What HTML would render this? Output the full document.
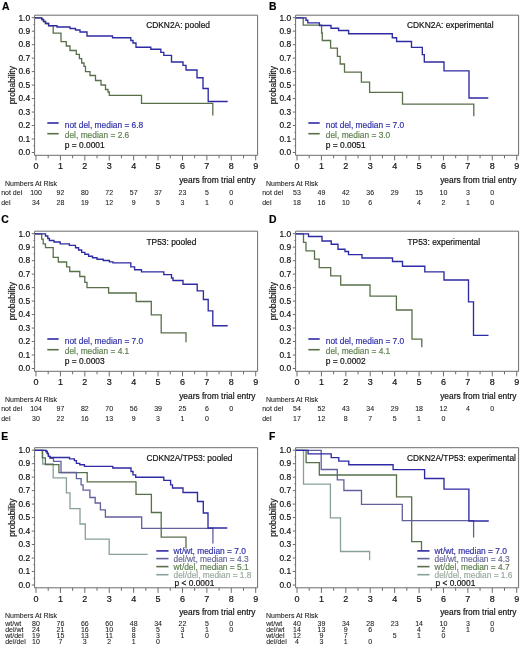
<!DOCTYPE html>
<html><head><meta charset="utf-8"><style>
html,body{margin:0;padding:0;background:#fff;}
body{width:520px;height:645px;overflow:hidden;}
svg{display:block;filter:blur(0.3px);font-family:"Liberation Sans",sans-serif;}
text{stroke-width:0.18px;}
text.t{stroke-width:0.08px;}
</style></head><body>
<svg width="520" height="645" viewBox="0 0 520 645">
<rect width="520" height="645" fill="#fff"/>
<g transform="translate(0,0)">
<text x="2" y="10" font-size="10.4" font-weight="bold" fill="#000" stroke="#000">A</text>
<path d="M34.6 15.2H257.6V155.3" fill="none" stroke="#6c6c6c" stroke-width="1"/>
<path d="M34.6 15.2V155.3H257.6" fill="none" stroke="#6c6c6c" stroke-width="1"/>
<path d="M31.8 152.5H34.6" stroke="#6c6c6c" stroke-width="1"/>
<text x="30.1" y="155.3" font-size="8.4" text-anchor="end" fill="#111" stroke="#111">0.0</text>
<path d="M31.8 139.02H34.6" stroke="#6c6c6c" stroke-width="1"/>
<text x="30.1" y="141.82" font-size="8.4" text-anchor="end" fill="#111" stroke="#111">0.1</text>
<path d="M31.8 125.54H34.6" stroke="#6c6c6c" stroke-width="1"/>
<text x="30.1" y="128.34" font-size="8.4" text-anchor="end" fill="#111" stroke="#111">0.2</text>
<path d="M31.8 112.06H34.6" stroke="#6c6c6c" stroke-width="1"/>
<text x="30.1" y="114.86" font-size="8.4" text-anchor="end" fill="#111" stroke="#111">0.3</text>
<path d="M31.8 98.58H34.6" stroke="#6c6c6c" stroke-width="1"/>
<text x="30.1" y="101.38" font-size="8.4" text-anchor="end" fill="#111" stroke="#111">0.4</text>
<path d="M31.8 85.1H34.6" stroke="#6c6c6c" stroke-width="1"/>
<text x="30.1" y="87.9" font-size="8.4" text-anchor="end" fill="#111" stroke="#111">0.5</text>
<path d="M31.8 71.62H34.6" stroke="#6c6c6c" stroke-width="1"/>
<text x="30.1" y="74.42" font-size="8.4" text-anchor="end" fill="#111" stroke="#111">0.6</text>
<path d="M31.8 58.14H34.6" stroke="#6c6c6c" stroke-width="1"/>
<text x="30.1" y="60.94" font-size="8.4" text-anchor="end" fill="#111" stroke="#111">0.7</text>
<path d="M31.8 44.66H34.6" stroke="#6c6c6c" stroke-width="1"/>
<text x="30.1" y="47.46" font-size="8.4" text-anchor="end" fill="#111" stroke="#111">0.8</text>
<path d="M31.8 31.18H34.6" stroke="#6c6c6c" stroke-width="1"/>
<text x="30.1" y="33.98" font-size="8.4" text-anchor="end" fill="#111" stroke="#111">0.9</text>
<path d="M31.8 17.7H34.6" stroke="#6c6c6c" stroke-width="1"/>
<text x="30.1" y="20.5" font-size="8.4" text-anchor="end" fill="#111" stroke="#111">1.0</text>
<path d="M33.4 145.76H34.6" stroke="#6c6c6c" stroke-width="1"/>
<path d="M33.4 132.28H34.6" stroke="#6c6c6c" stroke-width="1"/>
<path d="M33.4 118.8H34.6" stroke="#6c6c6c" stroke-width="1"/>
<path d="M33.4 105.32H34.6" stroke="#6c6c6c" stroke-width="1"/>
<path d="M33.4 91.84H34.6" stroke="#6c6c6c" stroke-width="1"/>
<path d="M33.4 78.36H34.6" stroke="#6c6c6c" stroke-width="1"/>
<path d="M33.4 64.88H34.6" stroke="#6c6c6c" stroke-width="1"/>
<path d="M33.4 51.4H34.6" stroke="#6c6c6c" stroke-width="1"/>
<path d="M33.4 37.92H34.6" stroke="#6c6c6c" stroke-width="1"/>
<path d="M33.4 24.44H34.6" stroke="#6c6c6c" stroke-width="1"/>
<path d="M36 155.3V160.4" stroke="#6c6c6c" stroke-width="1"/>
<text x="36" y="169.3" font-size="9" text-anchor="middle" fill="#111" stroke="#111">0</text>
<path d="M60.41 155.3V160.4" stroke="#6c6c6c" stroke-width="1"/>
<text x="60.41" y="169.3" font-size="9" text-anchor="middle" fill="#111" stroke="#111">1</text>
<path d="M84.82 155.3V160.4" stroke="#6c6c6c" stroke-width="1"/>
<text x="84.82" y="169.3" font-size="9" text-anchor="middle" fill="#111" stroke="#111">2</text>
<path d="M109.23 155.3V160.4" stroke="#6c6c6c" stroke-width="1"/>
<text x="109.23" y="169.3" font-size="9" text-anchor="middle" fill="#111" stroke="#111">3</text>
<path d="M133.64 155.3V160.4" stroke="#6c6c6c" stroke-width="1"/>
<text x="133.64" y="169.3" font-size="9" text-anchor="middle" fill="#111" stroke="#111">4</text>
<path d="M158.05 155.3V160.4" stroke="#6c6c6c" stroke-width="1"/>
<text x="158.05" y="169.3" font-size="9" text-anchor="middle" fill="#111" stroke="#111">5</text>
<path d="M182.46 155.3V160.4" stroke="#6c6c6c" stroke-width="1"/>
<text x="182.46" y="169.3" font-size="9" text-anchor="middle" fill="#111" stroke="#111">6</text>
<path d="M206.87 155.3V160.4" stroke="#6c6c6c" stroke-width="1"/>
<text x="206.87" y="169.3" font-size="9" text-anchor="middle" fill="#111" stroke="#111">7</text>
<path d="M231.28 155.3V160.4" stroke="#6c6c6c" stroke-width="1"/>
<text x="231.28" y="169.3" font-size="9" text-anchor="middle" fill="#111" stroke="#111">8</text>
<path d="M255.69 155.3V160.4" stroke="#6c6c6c" stroke-width="1"/>
<text x="255.69" y="169.3" font-size="9" text-anchor="middle" fill="#111" stroke="#111">9</text>
<path d="M48.2 155.3V158.3" stroke="#6c6c6c" stroke-width="1"/>
<path d="M72.62 155.3V158.3" stroke="#6c6c6c" stroke-width="1"/>
<path d="M97.03 155.3V158.3" stroke="#6c6c6c" stroke-width="1"/>
<path d="M121.44 155.3V158.3" stroke="#6c6c6c" stroke-width="1"/>
<path d="M145.84 155.3V158.3" stroke="#6c6c6c" stroke-width="1"/>
<path d="M170.25 155.3V158.3" stroke="#6c6c6c" stroke-width="1"/>
<path d="M194.66 155.3V158.3" stroke="#6c6c6c" stroke-width="1"/>
<path d="M219.07 155.3V158.3" stroke="#6c6c6c" stroke-width="1"/>
<path d="M243.49 155.3V158.3" stroke="#6c6c6c" stroke-width="1"/>
<text transform="translate(15.1,85.2) rotate(-90)" font-size="8.4" text-anchor="middle" fill="#111" stroke="#111">probability</text>
<text x="255.5" y="182.9" font-size="8.4" text-anchor="end" fill="#111" stroke="#111">years from trial entry</text>
<text class="t" x="5" y="185.5" font-size="7" fill="#222" stroke="#222">Numbers At Risk</text>
<path d="M35 17.8H41.7V19.5H43.5V21.5H45.5V23.5H48.6V25.7H53.2V33.2H61V41.7H66.3V46H70V50.5H76.3V54.3H79.4V58.6H81.7V63H84V66.3H85.5V71.7H90V75.5H95.5V80.5H101V85H105.5V89.5H108V92H109.3V95.3H141.5V103.4H212.8V115.4" fill="none" stroke="#58704a" stroke-width="1.3" stroke-linejoin="miter" stroke-linecap="butt"/>
<path d="M35 17.8H41.7V19.5H43.5V21.5H45.5V23.5H48.6V25.7H57V27H70V28.5H75.5V30H80V32H87V36H112.5V37.7H130.8V40.5H133V43H136V47.2H150.8V49.2H160.8V52.3H163.8V55.4H171.5V62H183V65.4H186V70H197V77.7H203V88.5H208.2V101.5H227.7" fill="none" stroke="#2e2aa4" stroke-width="1.35" stroke-linejoin="miter" stroke-linecap="butt"/>
<text x="146.2" y="28.1" font-size="8.4" fill="#111" stroke="#111">CDKN2A: pooled</text>
<path d="M47.3 123H58.7" stroke="#2e2aa4" stroke-width="1.6"/>
<path d="M47.3 133.7H58.7" stroke="#58704a" stroke-width="1.6"/>
<text x="64.8" y="127.5" font-size="8.4" fill="#3030a8" stroke="#3030a8">not del, median = 6.8</text>
<text x="64.8" y="137.8" font-size="8.4" fill="#5f8050" stroke="#5f8050">del, median = 2.6</text>
<text x="64.8" y="148" font-size="8.4" fill="#111" stroke="#111">p = 0.0001</text>
<text class="t" x="1.2" y="195" font-size="7" fill="#222" stroke="#222">not del</text>
<text class="t" x="36" y="195" font-size="7" text-anchor="middle" fill="#222" stroke="#222">100</text>
<text class="t" x="60.41" y="195" font-size="7" text-anchor="middle" fill="#222" stroke="#222">92</text>
<text class="t" x="84.82" y="195" font-size="7" text-anchor="middle" fill="#222" stroke="#222">80</text>
<text class="t" x="109.23" y="195" font-size="7" text-anchor="middle" fill="#222" stroke="#222">72</text>
<text class="t" x="133.64" y="195" font-size="7" text-anchor="middle" fill="#222" stroke="#222">57</text>
<text class="t" x="158.05" y="195" font-size="7" text-anchor="middle" fill="#222" stroke="#222">37</text>
<text class="t" x="182.46" y="195" font-size="7" text-anchor="middle" fill="#222" stroke="#222">23</text>
<text class="t" x="206.87" y="195" font-size="7" text-anchor="middle" fill="#222" stroke="#222">5</text>
<text class="t" x="231.28" y="195" font-size="7" text-anchor="middle" fill="#222" stroke="#222">0</text>
<text class="t" x="1.2" y="204.5" font-size="7" fill="#222" stroke="#222">del</text>
<text class="t" x="36" y="204.5" font-size="7" text-anchor="middle" fill="#222" stroke="#222">34</text>
<text class="t" x="60.41" y="204.5" font-size="7" text-anchor="middle" fill="#222" stroke="#222">28</text>
<text class="t" x="84.82" y="204.5" font-size="7" text-anchor="middle" fill="#222" stroke="#222">19</text>
<text class="t" x="109.23" y="204.5" font-size="7" text-anchor="middle" fill="#222" stroke="#222">12</text>
<text class="t" x="133.64" y="204.5" font-size="7" text-anchor="middle" fill="#222" stroke="#222">9</text>
<text class="t" x="158.05" y="204.5" font-size="7" text-anchor="middle" fill="#222" stroke="#222">5</text>
<text class="t" x="182.46" y="204.5" font-size="7" text-anchor="middle" fill="#222" stroke="#222">3</text>
<text class="t" x="206.87" y="204.5" font-size="7" text-anchor="middle" fill="#222" stroke="#222">1</text>
<text class="t" x="231.28" y="204.5" font-size="7" text-anchor="middle" fill="#222" stroke="#222">0</text>
</g>
<g transform="translate(261,0)">
<text x="8.1" y="9.6" font-size="10.4" font-weight="bold" fill="#000" stroke="#000">B</text>
<path d="M34.6 15.2H257.6V155.3" fill="none" stroke="#6c6c6c" stroke-width="1"/>
<path d="M34.6 15.2V155.3H257.6" fill="none" stroke="#6c6c6c" stroke-width="1"/>
<path d="M31.8 152.5H34.6" stroke="#6c6c6c" stroke-width="1"/>
<text x="30.1" y="155.3" font-size="8.4" text-anchor="end" fill="#111" stroke="#111">0.0</text>
<path d="M31.8 139.02H34.6" stroke="#6c6c6c" stroke-width="1"/>
<text x="30.1" y="141.82" font-size="8.4" text-anchor="end" fill="#111" stroke="#111">0.1</text>
<path d="M31.8 125.54H34.6" stroke="#6c6c6c" stroke-width="1"/>
<text x="30.1" y="128.34" font-size="8.4" text-anchor="end" fill="#111" stroke="#111">0.2</text>
<path d="M31.8 112.06H34.6" stroke="#6c6c6c" stroke-width="1"/>
<text x="30.1" y="114.86" font-size="8.4" text-anchor="end" fill="#111" stroke="#111">0.3</text>
<path d="M31.8 98.58H34.6" stroke="#6c6c6c" stroke-width="1"/>
<text x="30.1" y="101.38" font-size="8.4" text-anchor="end" fill="#111" stroke="#111">0.4</text>
<path d="M31.8 85.1H34.6" stroke="#6c6c6c" stroke-width="1"/>
<text x="30.1" y="87.9" font-size="8.4" text-anchor="end" fill="#111" stroke="#111">0.5</text>
<path d="M31.8 71.62H34.6" stroke="#6c6c6c" stroke-width="1"/>
<text x="30.1" y="74.42" font-size="8.4" text-anchor="end" fill="#111" stroke="#111">0.6</text>
<path d="M31.8 58.14H34.6" stroke="#6c6c6c" stroke-width="1"/>
<text x="30.1" y="60.94" font-size="8.4" text-anchor="end" fill="#111" stroke="#111">0.7</text>
<path d="M31.8 44.66H34.6" stroke="#6c6c6c" stroke-width="1"/>
<text x="30.1" y="47.46" font-size="8.4" text-anchor="end" fill="#111" stroke="#111">0.8</text>
<path d="M31.8 31.18H34.6" stroke="#6c6c6c" stroke-width="1"/>
<text x="30.1" y="33.98" font-size="8.4" text-anchor="end" fill="#111" stroke="#111">0.9</text>
<path d="M31.8 17.7H34.6" stroke="#6c6c6c" stroke-width="1"/>
<text x="30.1" y="20.5" font-size="8.4" text-anchor="end" fill="#111" stroke="#111">1.0</text>
<path d="M33.4 145.76H34.6" stroke="#6c6c6c" stroke-width="1"/>
<path d="M33.4 132.28H34.6" stroke="#6c6c6c" stroke-width="1"/>
<path d="M33.4 118.8H34.6" stroke="#6c6c6c" stroke-width="1"/>
<path d="M33.4 105.32H34.6" stroke="#6c6c6c" stroke-width="1"/>
<path d="M33.4 91.84H34.6" stroke="#6c6c6c" stroke-width="1"/>
<path d="M33.4 78.36H34.6" stroke="#6c6c6c" stroke-width="1"/>
<path d="M33.4 64.88H34.6" stroke="#6c6c6c" stroke-width="1"/>
<path d="M33.4 51.4H34.6" stroke="#6c6c6c" stroke-width="1"/>
<path d="M33.4 37.92H34.6" stroke="#6c6c6c" stroke-width="1"/>
<path d="M33.4 24.44H34.6" stroke="#6c6c6c" stroke-width="1"/>
<path d="M36 155.3V160.4" stroke="#6c6c6c" stroke-width="1"/>
<text x="36" y="169.3" font-size="9" text-anchor="middle" fill="#111" stroke="#111">0</text>
<path d="M60.41 155.3V160.4" stroke="#6c6c6c" stroke-width="1"/>
<text x="60.41" y="169.3" font-size="9" text-anchor="middle" fill="#111" stroke="#111">1</text>
<path d="M84.82 155.3V160.4" stroke="#6c6c6c" stroke-width="1"/>
<text x="84.82" y="169.3" font-size="9" text-anchor="middle" fill="#111" stroke="#111">2</text>
<path d="M109.23 155.3V160.4" stroke="#6c6c6c" stroke-width="1"/>
<text x="109.23" y="169.3" font-size="9" text-anchor="middle" fill="#111" stroke="#111">3</text>
<path d="M133.64 155.3V160.4" stroke="#6c6c6c" stroke-width="1"/>
<text x="133.64" y="169.3" font-size="9" text-anchor="middle" fill="#111" stroke="#111">4</text>
<path d="M158.05 155.3V160.4" stroke="#6c6c6c" stroke-width="1"/>
<text x="158.05" y="169.3" font-size="9" text-anchor="middle" fill="#111" stroke="#111">5</text>
<path d="M182.46 155.3V160.4" stroke="#6c6c6c" stroke-width="1"/>
<text x="182.46" y="169.3" font-size="9" text-anchor="middle" fill="#111" stroke="#111">6</text>
<path d="M206.87 155.3V160.4" stroke="#6c6c6c" stroke-width="1"/>
<text x="206.87" y="169.3" font-size="9" text-anchor="middle" fill="#111" stroke="#111">7</text>
<path d="M231.28 155.3V160.4" stroke="#6c6c6c" stroke-width="1"/>
<text x="231.28" y="169.3" font-size="9" text-anchor="middle" fill="#111" stroke="#111">8</text>
<path d="M255.69 155.3V160.4" stroke="#6c6c6c" stroke-width="1"/>
<text x="255.69" y="169.3" font-size="9" text-anchor="middle" fill="#111" stroke="#111">9</text>
<path d="M48.2 155.3V158.3" stroke="#6c6c6c" stroke-width="1"/>
<path d="M72.62 155.3V158.3" stroke="#6c6c6c" stroke-width="1"/>
<path d="M97.03 155.3V158.3" stroke="#6c6c6c" stroke-width="1"/>
<path d="M121.44 155.3V158.3" stroke="#6c6c6c" stroke-width="1"/>
<path d="M145.84 155.3V158.3" stroke="#6c6c6c" stroke-width="1"/>
<path d="M170.25 155.3V158.3" stroke="#6c6c6c" stroke-width="1"/>
<path d="M194.66 155.3V158.3" stroke="#6c6c6c" stroke-width="1"/>
<path d="M219.07 155.3V158.3" stroke="#6c6c6c" stroke-width="1"/>
<path d="M243.49 155.3V158.3" stroke="#6c6c6c" stroke-width="1"/>
<text transform="translate(15.1,85.2) rotate(-90)" font-size="8.4" text-anchor="middle" fill="#111" stroke="#111">probability</text>
<text x="255.5" y="182.9" font-size="8.4" text-anchor="end" fill="#111" stroke="#111">years from trial entry</text>
<text class="t" x="5" y="185.5" font-size="7" fill="#222" stroke="#222">Numbers At Risk</text>
<path d="M35 17.8H42.2V25.2H60.6V33H61.3V40.5H69.6V48.2H76.4V56.3H79.2V64H83.5V72.2H100.4V82.2H108.6V92.3H141.5V104.2H212.8V116.3" fill="none" stroke="#58704a" stroke-width="1.3" stroke-linejoin="miter" stroke-linecap="butt"/>
<path d="M35 17.8H45V20.2H46.8V22.8H58.4V25.5H70V28.2H77.6V30.5H87.6V33.7H131.3V37.7H135.6V41.5H150.5V47.4H161.3V54.6H163.3V62H183V70.8H208V98H227.3" fill="none" stroke="#2e2aa4" stroke-width="1.35" stroke-linejoin="miter" stroke-linecap="butt"/>
<text x="146" y="28.1" font-size="8.4" fill="#111" stroke="#111">CDKN2A: experimental</text>
<path d="M47.3 123H58.7" stroke="#2e2aa4" stroke-width="1.6"/>
<path d="M47.3 133.7H58.7" stroke="#58704a" stroke-width="1.6"/>
<text x="64.8" y="127.5" font-size="8.4" fill="#3030a8" stroke="#3030a8">not del, median = 7.0</text>
<text x="64.8" y="137.8" font-size="8.4" fill="#5f8050" stroke="#5f8050">del, median = 3.0</text>
<text x="64.8" y="148" font-size="8.4" fill="#111" stroke="#111">p = 0.0051</text>
<text class="t" x="1.2" y="195" font-size="7" fill="#222" stroke="#222">not del</text>
<text class="t" x="36" y="195" font-size="7" text-anchor="middle" fill="#222" stroke="#222">53</text>
<text class="t" x="60.41" y="195" font-size="7" text-anchor="middle" fill="#222" stroke="#222">49</text>
<text class="t" x="84.82" y="195" font-size="7" text-anchor="middle" fill="#222" stroke="#222">42</text>
<text class="t" x="109.23" y="195" font-size="7" text-anchor="middle" fill="#222" stroke="#222">36</text>
<text class="t" x="133.64" y="195" font-size="7" text-anchor="middle" fill="#222" stroke="#222">29</text>
<text class="t" x="158.05" y="195" font-size="7" text-anchor="middle" fill="#222" stroke="#222">15</text>
<text class="t" x="182.46" y="195" font-size="7" text-anchor="middle" fill="#222" stroke="#222">10</text>
<text class="t" x="206.87" y="195" font-size="7" text-anchor="middle" fill="#222" stroke="#222">3</text>
<text class="t" x="231.28" y="195" font-size="7" text-anchor="middle" fill="#222" stroke="#222">0</text>
<text class="t" x="1.2" y="204.5" font-size="7" fill="#222" stroke="#222">del</text>
<text class="t" x="36" y="204.5" font-size="7" text-anchor="middle" fill="#222" stroke="#222">18</text>
<text class="t" x="60.41" y="204.5" font-size="7" text-anchor="middle" fill="#222" stroke="#222">16</text>
<text class="t" x="84.82" y="204.5" font-size="7" text-anchor="middle" fill="#222" stroke="#222">10</text>
<text class="t" x="109.23" y="204.5" font-size="7" text-anchor="middle" fill="#222" stroke="#222">6</text>
<text class="t" x="158.05" y="204.5" font-size="7" text-anchor="middle" fill="#222" stroke="#222">4</text>
<text class="t" x="182.46" y="204.5" font-size="7" text-anchor="middle" fill="#222" stroke="#222">2</text>
<text class="t" x="206.87" y="204.5" font-size="7" text-anchor="middle" fill="#222" stroke="#222">1</text>
<text class="t" x="231.28" y="204.5" font-size="7" text-anchor="middle" fill="#222" stroke="#222">0</text>
</g>
<g transform="translate(0,216)">
<text x="1.2" y="7.4" font-size="10.4" font-weight="bold" fill="#000" stroke="#000">C</text>
<path d="M34.6 15.2H257.6V155.3" fill="none" stroke="#6c6c6c" stroke-width="1"/>
<path d="M34.6 15.2V155.3H257.6" fill="none" stroke="#6c6c6c" stroke-width="1"/>
<path d="M31.8 152.5H34.6" stroke="#6c6c6c" stroke-width="1"/>
<text x="30.1" y="155.3" font-size="8.4" text-anchor="end" fill="#111" stroke="#111">0.0</text>
<path d="M31.8 139.02H34.6" stroke="#6c6c6c" stroke-width="1"/>
<text x="30.1" y="141.82" font-size="8.4" text-anchor="end" fill="#111" stroke="#111">0.1</text>
<path d="M31.8 125.54H34.6" stroke="#6c6c6c" stroke-width="1"/>
<text x="30.1" y="128.34" font-size="8.4" text-anchor="end" fill="#111" stroke="#111">0.2</text>
<path d="M31.8 112.06H34.6" stroke="#6c6c6c" stroke-width="1"/>
<text x="30.1" y="114.86" font-size="8.4" text-anchor="end" fill="#111" stroke="#111">0.3</text>
<path d="M31.8 98.58H34.6" stroke="#6c6c6c" stroke-width="1"/>
<text x="30.1" y="101.38" font-size="8.4" text-anchor="end" fill="#111" stroke="#111">0.4</text>
<path d="M31.8 85.1H34.6" stroke="#6c6c6c" stroke-width="1"/>
<text x="30.1" y="87.9" font-size="8.4" text-anchor="end" fill="#111" stroke="#111">0.5</text>
<path d="M31.8 71.62H34.6" stroke="#6c6c6c" stroke-width="1"/>
<text x="30.1" y="74.42" font-size="8.4" text-anchor="end" fill="#111" stroke="#111">0.6</text>
<path d="M31.8 58.14H34.6" stroke="#6c6c6c" stroke-width="1"/>
<text x="30.1" y="60.94" font-size="8.4" text-anchor="end" fill="#111" stroke="#111">0.7</text>
<path d="M31.8 44.66H34.6" stroke="#6c6c6c" stroke-width="1"/>
<text x="30.1" y="47.46" font-size="8.4" text-anchor="end" fill="#111" stroke="#111">0.8</text>
<path d="M31.8 31.18H34.6" stroke="#6c6c6c" stroke-width="1"/>
<text x="30.1" y="33.98" font-size="8.4" text-anchor="end" fill="#111" stroke="#111">0.9</text>
<path d="M31.8 17.7H34.6" stroke="#6c6c6c" stroke-width="1"/>
<text x="30.1" y="20.5" font-size="8.4" text-anchor="end" fill="#111" stroke="#111">1.0</text>
<path d="M33.4 145.76H34.6" stroke="#6c6c6c" stroke-width="1"/>
<path d="M33.4 132.28H34.6" stroke="#6c6c6c" stroke-width="1"/>
<path d="M33.4 118.8H34.6" stroke="#6c6c6c" stroke-width="1"/>
<path d="M33.4 105.32H34.6" stroke="#6c6c6c" stroke-width="1"/>
<path d="M33.4 91.84H34.6" stroke="#6c6c6c" stroke-width="1"/>
<path d="M33.4 78.36H34.6" stroke="#6c6c6c" stroke-width="1"/>
<path d="M33.4 64.88H34.6" stroke="#6c6c6c" stroke-width="1"/>
<path d="M33.4 51.4H34.6" stroke="#6c6c6c" stroke-width="1"/>
<path d="M33.4 37.92H34.6" stroke="#6c6c6c" stroke-width="1"/>
<path d="M33.4 24.44H34.6" stroke="#6c6c6c" stroke-width="1"/>
<path d="M36 155.3V160.4" stroke="#6c6c6c" stroke-width="1"/>
<text x="36" y="169.3" font-size="9" text-anchor="middle" fill="#111" stroke="#111">0</text>
<path d="M60.41 155.3V160.4" stroke="#6c6c6c" stroke-width="1"/>
<text x="60.41" y="169.3" font-size="9" text-anchor="middle" fill="#111" stroke="#111">1</text>
<path d="M84.82 155.3V160.4" stroke="#6c6c6c" stroke-width="1"/>
<text x="84.82" y="169.3" font-size="9" text-anchor="middle" fill="#111" stroke="#111">2</text>
<path d="M109.23 155.3V160.4" stroke="#6c6c6c" stroke-width="1"/>
<text x="109.23" y="169.3" font-size="9" text-anchor="middle" fill="#111" stroke="#111">3</text>
<path d="M133.64 155.3V160.4" stroke="#6c6c6c" stroke-width="1"/>
<text x="133.64" y="169.3" font-size="9" text-anchor="middle" fill="#111" stroke="#111">4</text>
<path d="M158.05 155.3V160.4" stroke="#6c6c6c" stroke-width="1"/>
<text x="158.05" y="169.3" font-size="9" text-anchor="middle" fill="#111" stroke="#111">5</text>
<path d="M182.46 155.3V160.4" stroke="#6c6c6c" stroke-width="1"/>
<text x="182.46" y="169.3" font-size="9" text-anchor="middle" fill="#111" stroke="#111">6</text>
<path d="M206.87 155.3V160.4" stroke="#6c6c6c" stroke-width="1"/>
<text x="206.87" y="169.3" font-size="9" text-anchor="middle" fill="#111" stroke="#111">7</text>
<path d="M231.28 155.3V160.4" stroke="#6c6c6c" stroke-width="1"/>
<text x="231.28" y="169.3" font-size="9" text-anchor="middle" fill="#111" stroke="#111">8</text>
<path d="M255.69 155.3V160.4" stroke="#6c6c6c" stroke-width="1"/>
<text x="255.69" y="169.3" font-size="9" text-anchor="middle" fill="#111" stroke="#111">9</text>
<path d="M48.2 155.3V158.3" stroke="#6c6c6c" stroke-width="1"/>
<path d="M72.62 155.3V158.3" stroke="#6c6c6c" stroke-width="1"/>
<path d="M97.03 155.3V158.3" stroke="#6c6c6c" stroke-width="1"/>
<path d="M121.44 155.3V158.3" stroke="#6c6c6c" stroke-width="1"/>
<path d="M145.84 155.3V158.3" stroke="#6c6c6c" stroke-width="1"/>
<path d="M170.25 155.3V158.3" stroke="#6c6c6c" stroke-width="1"/>
<path d="M194.66 155.3V158.3" stroke="#6c6c6c" stroke-width="1"/>
<path d="M219.07 155.3V158.3" stroke="#6c6c6c" stroke-width="1"/>
<path d="M243.49 155.3V158.3" stroke="#6c6c6c" stroke-width="1"/>
<text transform="translate(15.1,85.2) rotate(-90)" font-size="8.4" text-anchor="middle" fill="#111" stroke="#111">probability</text>
<text x="255.5" y="182.9" font-size="8.4" text-anchor="end" fill="#111" stroke="#111">years from trial entry</text>
<text class="t" x="5" y="185.5" font-size="7" fill="#222" stroke="#222">Numbers At Risk</text>
<path d="M35 17.8H41.7V23.2H43.2V27.8H45.5V31.7H53.2V41.4H58.3V46H66.6V50.9H69.7V55.5H79.8V60.5H84.8V66.3H87V71.7H108.6V77H136.2V85.5H151.3V98.9H161.2V116.8H186V126.3" fill="none" stroke="#58704a" stroke-width="1.3" stroke-linejoin="miter" stroke-linecap="butt"/>
<path d="M35 17.8H45.5V20H47.8V22.5H49.4V24.5H54V26H60.2V27.8H69.4V29.4H75.5V31.7H78.6V34H81.7V36.3H84.8V38.2H88.6V40.2H92.5V41.7H97V43.2H103.2V44.5H109.4V45.8H113V46.8H130.8V50.9H134.6V53.7H141.5V55.8H163.8V58.6H171.5V62H173V64.5H183V68.2H197.2V74.8H203.4V83.5H208.2V94.8H212.8V109.7H227.7" fill="none" stroke="#2e2aa4" stroke-width="1.35" stroke-linejoin="miter" stroke-linecap="butt"/>
<text x="146.5" y="28.5" font-size="8.4" fill="#111" stroke="#111">TP53: pooled</text>
<path d="M47.3 123H58.7" stroke="#2e2aa4" stroke-width="1.6"/>
<path d="M47.3 133.7H58.7" stroke="#58704a" stroke-width="1.6"/>
<text x="64.8" y="127.5" font-size="8.4" fill="#3030a8" stroke="#3030a8">not del, median = 7.0</text>
<text x="64.8" y="137.8" font-size="8.4" fill="#5f8050" stroke="#5f8050">del, median = 4.1</text>
<text x="64.8" y="148" font-size="8.4" fill="#111" stroke="#111">p = 0.0003</text>
<text class="t" x="1.2" y="195" font-size="7" fill="#222" stroke="#222">not del</text>
<text class="t" x="36" y="195" font-size="7" text-anchor="middle" fill="#222" stroke="#222">104</text>
<text class="t" x="60.41" y="195" font-size="7" text-anchor="middle" fill="#222" stroke="#222">97</text>
<text class="t" x="84.82" y="195" font-size="7" text-anchor="middle" fill="#222" stroke="#222">82</text>
<text class="t" x="109.23" y="195" font-size="7" text-anchor="middle" fill="#222" stroke="#222">70</text>
<text class="t" x="133.64" y="195" font-size="7" text-anchor="middle" fill="#222" stroke="#222">56</text>
<text class="t" x="158.05" y="195" font-size="7" text-anchor="middle" fill="#222" stroke="#222">39</text>
<text class="t" x="182.46" y="195" font-size="7" text-anchor="middle" fill="#222" stroke="#222">25</text>
<text class="t" x="206.87" y="195" font-size="7" text-anchor="middle" fill="#222" stroke="#222">6</text>
<text class="t" x="231.28" y="195" font-size="7" text-anchor="middle" fill="#222" stroke="#222">0</text>
<text class="t" x="1.2" y="204.5" font-size="7" fill="#222" stroke="#222">del</text>
<text class="t" x="36" y="204.5" font-size="7" text-anchor="middle" fill="#222" stroke="#222">30</text>
<text class="t" x="60.41" y="204.5" font-size="7" text-anchor="middle" fill="#222" stroke="#222">22</text>
<text class="t" x="84.82" y="204.5" font-size="7" text-anchor="middle" fill="#222" stroke="#222">16</text>
<text class="t" x="109.23" y="204.5" font-size="7" text-anchor="middle" fill="#222" stroke="#222">13</text>
<text class="t" x="133.64" y="204.5" font-size="7" text-anchor="middle" fill="#222" stroke="#222">9</text>
<text class="t" x="158.05" y="204.5" font-size="7" text-anchor="middle" fill="#222" stroke="#222">3</text>
<text class="t" x="182.46" y="204.5" font-size="7" text-anchor="middle" fill="#222" stroke="#222">1</text>
<text class="t" x="206.87" y="204.5" font-size="7" text-anchor="middle" fill="#222" stroke="#222">0</text>
</g>
<g transform="translate(261,216)">
<text x="7.9" y="7.3" font-size="10.4" font-weight="bold" fill="#000" stroke="#000">D</text>
<path d="M34.6 15.2H257.6V155.3" fill="none" stroke="#6c6c6c" stroke-width="1"/>
<path d="M34.6 15.2V155.3H257.6" fill="none" stroke="#6c6c6c" stroke-width="1"/>
<path d="M31.8 152.5H34.6" stroke="#6c6c6c" stroke-width="1"/>
<text x="30.1" y="155.3" font-size="8.4" text-anchor="end" fill="#111" stroke="#111">0.0</text>
<path d="M31.8 139.02H34.6" stroke="#6c6c6c" stroke-width="1"/>
<text x="30.1" y="141.82" font-size="8.4" text-anchor="end" fill="#111" stroke="#111">0.1</text>
<path d="M31.8 125.54H34.6" stroke="#6c6c6c" stroke-width="1"/>
<text x="30.1" y="128.34" font-size="8.4" text-anchor="end" fill="#111" stroke="#111">0.2</text>
<path d="M31.8 112.06H34.6" stroke="#6c6c6c" stroke-width="1"/>
<text x="30.1" y="114.86" font-size="8.4" text-anchor="end" fill="#111" stroke="#111">0.3</text>
<path d="M31.8 98.58H34.6" stroke="#6c6c6c" stroke-width="1"/>
<text x="30.1" y="101.38" font-size="8.4" text-anchor="end" fill="#111" stroke="#111">0.4</text>
<path d="M31.8 85.1H34.6" stroke="#6c6c6c" stroke-width="1"/>
<text x="30.1" y="87.9" font-size="8.4" text-anchor="end" fill="#111" stroke="#111">0.5</text>
<path d="M31.8 71.62H34.6" stroke="#6c6c6c" stroke-width="1"/>
<text x="30.1" y="74.42" font-size="8.4" text-anchor="end" fill="#111" stroke="#111">0.6</text>
<path d="M31.8 58.14H34.6" stroke="#6c6c6c" stroke-width="1"/>
<text x="30.1" y="60.94" font-size="8.4" text-anchor="end" fill="#111" stroke="#111">0.7</text>
<path d="M31.8 44.66H34.6" stroke="#6c6c6c" stroke-width="1"/>
<text x="30.1" y="47.46" font-size="8.4" text-anchor="end" fill="#111" stroke="#111">0.8</text>
<path d="M31.8 31.18H34.6" stroke="#6c6c6c" stroke-width="1"/>
<text x="30.1" y="33.98" font-size="8.4" text-anchor="end" fill="#111" stroke="#111">0.9</text>
<path d="M31.8 17.7H34.6" stroke="#6c6c6c" stroke-width="1"/>
<text x="30.1" y="20.5" font-size="8.4" text-anchor="end" fill="#111" stroke="#111">1.0</text>
<path d="M33.4 145.76H34.6" stroke="#6c6c6c" stroke-width="1"/>
<path d="M33.4 132.28H34.6" stroke="#6c6c6c" stroke-width="1"/>
<path d="M33.4 118.8H34.6" stroke="#6c6c6c" stroke-width="1"/>
<path d="M33.4 105.32H34.6" stroke="#6c6c6c" stroke-width="1"/>
<path d="M33.4 91.84H34.6" stroke="#6c6c6c" stroke-width="1"/>
<path d="M33.4 78.36H34.6" stroke="#6c6c6c" stroke-width="1"/>
<path d="M33.4 64.88H34.6" stroke="#6c6c6c" stroke-width="1"/>
<path d="M33.4 51.4H34.6" stroke="#6c6c6c" stroke-width="1"/>
<path d="M33.4 37.92H34.6" stroke="#6c6c6c" stroke-width="1"/>
<path d="M33.4 24.44H34.6" stroke="#6c6c6c" stroke-width="1"/>
<path d="M36 155.3V160.4" stroke="#6c6c6c" stroke-width="1"/>
<text x="36" y="169.3" font-size="9" text-anchor="middle" fill="#111" stroke="#111">0</text>
<path d="M60.41 155.3V160.4" stroke="#6c6c6c" stroke-width="1"/>
<text x="60.41" y="169.3" font-size="9" text-anchor="middle" fill="#111" stroke="#111">1</text>
<path d="M84.82 155.3V160.4" stroke="#6c6c6c" stroke-width="1"/>
<text x="84.82" y="169.3" font-size="9" text-anchor="middle" fill="#111" stroke="#111">2</text>
<path d="M109.23 155.3V160.4" stroke="#6c6c6c" stroke-width="1"/>
<text x="109.23" y="169.3" font-size="9" text-anchor="middle" fill="#111" stroke="#111">3</text>
<path d="M133.64 155.3V160.4" stroke="#6c6c6c" stroke-width="1"/>
<text x="133.64" y="169.3" font-size="9" text-anchor="middle" fill="#111" stroke="#111">4</text>
<path d="M158.05 155.3V160.4" stroke="#6c6c6c" stroke-width="1"/>
<text x="158.05" y="169.3" font-size="9" text-anchor="middle" fill="#111" stroke="#111">5</text>
<path d="M182.46 155.3V160.4" stroke="#6c6c6c" stroke-width="1"/>
<text x="182.46" y="169.3" font-size="9" text-anchor="middle" fill="#111" stroke="#111">6</text>
<path d="M206.87 155.3V160.4" stroke="#6c6c6c" stroke-width="1"/>
<text x="206.87" y="169.3" font-size="9" text-anchor="middle" fill="#111" stroke="#111">7</text>
<path d="M231.28 155.3V160.4" stroke="#6c6c6c" stroke-width="1"/>
<text x="231.28" y="169.3" font-size="9" text-anchor="middle" fill="#111" stroke="#111">8</text>
<path d="M255.69 155.3V160.4" stroke="#6c6c6c" stroke-width="1"/>
<text x="255.69" y="169.3" font-size="9" text-anchor="middle" fill="#111" stroke="#111">9</text>
<path d="M48.2 155.3V158.3" stroke="#6c6c6c" stroke-width="1"/>
<path d="M72.62 155.3V158.3" stroke="#6c6c6c" stroke-width="1"/>
<path d="M97.03 155.3V158.3" stroke="#6c6c6c" stroke-width="1"/>
<path d="M121.44 155.3V158.3" stroke="#6c6c6c" stroke-width="1"/>
<path d="M145.84 155.3V158.3" stroke="#6c6c6c" stroke-width="1"/>
<path d="M170.25 155.3V158.3" stroke="#6c6c6c" stroke-width="1"/>
<path d="M194.66 155.3V158.3" stroke="#6c6c6c" stroke-width="1"/>
<path d="M219.07 155.3V158.3" stroke="#6c6c6c" stroke-width="1"/>
<path d="M243.49 155.3V158.3" stroke="#6c6c6c" stroke-width="1"/>
<text transform="translate(15.1,85.2) rotate(-90)" font-size="8.4" text-anchor="middle" fill="#111" stroke="#111">probability</text>
<text x="255.5" y="182.9" font-size="8.4" text-anchor="end" fill="#111" stroke="#111">years from trial entry</text>
<text class="t" x="5" y="185.5" font-size="7" fill="#222" stroke="#222">Numbers At Risk</text>
<path d="M35 17.8H42.5V26.3H45V34.8H53.5V43.2H58.2V51.7H69.7V59.8H79.7V69H109V80.2H135.4V94H151V123.2H160.8V131.2" fill="none" stroke="#58704a" stroke-width="1.3" stroke-linejoin="miter" stroke-linecap="butt"/>
<path d="M35 17.8H47.5V20.5H61V25H70.2V28.2H77V33.2H84V35.5H87.5V38.6H101V42H131.5V45.5H141.5V50.2H163.8V55.8H183V64H207.5V85.8H212.5V119.4H227.5" fill="none" stroke="#2e2aa4" stroke-width="1.35" stroke-linejoin="miter" stroke-linecap="butt"/>
<text x="146.5" y="28.5" font-size="8.4" fill="#111" stroke="#111">TP53: experimental</text>
<path d="M47.3 123H58.7" stroke="#2e2aa4" stroke-width="1.6"/>
<path d="M47.3 133.7H58.7" stroke="#58704a" stroke-width="1.6"/>
<text x="64.8" y="127.5" font-size="8.4" fill="#3030a8" stroke="#3030a8">not del, median = 7.0</text>
<text x="64.8" y="137.8" font-size="8.4" fill="#5f8050" stroke="#5f8050">del, median = 4.1</text>
<text x="64.8" y="148" font-size="8.4" fill="#111" stroke="#111">p = 0.0002</text>
<text class="t" x="1.2" y="195" font-size="7" fill="#222" stroke="#222">not del</text>
<text class="t" x="36" y="195" font-size="7" text-anchor="middle" fill="#222" stroke="#222">54</text>
<text class="t" x="60.41" y="195" font-size="7" text-anchor="middle" fill="#222" stroke="#222">52</text>
<text class="t" x="84.82" y="195" font-size="7" text-anchor="middle" fill="#222" stroke="#222">43</text>
<text class="t" x="109.23" y="195" font-size="7" text-anchor="middle" fill="#222" stroke="#222">34</text>
<text class="t" x="133.64" y="195" font-size="7" text-anchor="middle" fill="#222" stroke="#222">29</text>
<text class="t" x="158.05" y="195" font-size="7" text-anchor="middle" fill="#222" stroke="#222">18</text>
<text class="t" x="182.46" y="195" font-size="7" text-anchor="middle" fill="#222" stroke="#222">12</text>
<text class="t" x="206.87" y="195" font-size="7" text-anchor="middle" fill="#222" stroke="#222">4</text>
<text class="t" x="231.28" y="195" font-size="7" text-anchor="middle" fill="#222" stroke="#222">0</text>
<text class="t" x="1.2" y="204.5" font-size="7" fill="#222" stroke="#222">del</text>
<text class="t" x="36" y="204.5" font-size="7" text-anchor="middle" fill="#222" stroke="#222">17</text>
<text class="t" x="60.41" y="204.5" font-size="7" text-anchor="middle" fill="#222" stroke="#222">12</text>
<text class="t" x="84.82" y="204.5" font-size="7" text-anchor="middle" fill="#222" stroke="#222">8</text>
<text class="t" x="109.23" y="204.5" font-size="7" text-anchor="middle" fill="#222" stroke="#222">7</text>
<text class="t" x="133.64" y="204.5" font-size="7" text-anchor="middle" fill="#222" stroke="#222">5</text>
<text class="t" x="158.05" y="204.5" font-size="7" text-anchor="middle" fill="#222" stroke="#222">1</text>
<text class="t" x="182.46" y="204.5" font-size="7" text-anchor="middle" fill="#222" stroke="#222">0</text>
</g>
<g transform="translate(0,432.5)">
<text x="1.2" y="7.4" font-size="10.4" font-weight="bold" fill="#000" stroke="#000">E</text>
<path d="M34.6 15.2H257.6V155.3" fill="none" stroke="#6c6c6c" stroke-width="1"/>
<path d="M34.6 15.2V155.3H257.6" fill="none" stroke="#6c6c6c" stroke-width="1"/>
<path d="M31.8 152.5H34.6" stroke="#6c6c6c" stroke-width="1"/>
<text x="30.1" y="155.3" font-size="8.4" text-anchor="end" fill="#111" stroke="#111">0.0</text>
<path d="M31.8 139.02H34.6" stroke="#6c6c6c" stroke-width="1"/>
<text x="30.1" y="141.82" font-size="8.4" text-anchor="end" fill="#111" stroke="#111">0.1</text>
<path d="M31.8 125.54H34.6" stroke="#6c6c6c" stroke-width="1"/>
<text x="30.1" y="128.34" font-size="8.4" text-anchor="end" fill="#111" stroke="#111">0.2</text>
<path d="M31.8 112.06H34.6" stroke="#6c6c6c" stroke-width="1"/>
<text x="30.1" y="114.86" font-size="8.4" text-anchor="end" fill="#111" stroke="#111">0.3</text>
<path d="M31.8 98.58H34.6" stroke="#6c6c6c" stroke-width="1"/>
<text x="30.1" y="101.38" font-size="8.4" text-anchor="end" fill="#111" stroke="#111">0.4</text>
<path d="M31.8 85.1H34.6" stroke="#6c6c6c" stroke-width="1"/>
<text x="30.1" y="87.9" font-size="8.4" text-anchor="end" fill="#111" stroke="#111">0.5</text>
<path d="M31.8 71.62H34.6" stroke="#6c6c6c" stroke-width="1"/>
<text x="30.1" y="74.42" font-size="8.4" text-anchor="end" fill="#111" stroke="#111">0.6</text>
<path d="M31.8 58.14H34.6" stroke="#6c6c6c" stroke-width="1"/>
<text x="30.1" y="60.94" font-size="8.4" text-anchor="end" fill="#111" stroke="#111">0.7</text>
<path d="M31.8 44.66H34.6" stroke="#6c6c6c" stroke-width="1"/>
<text x="30.1" y="47.46" font-size="8.4" text-anchor="end" fill="#111" stroke="#111">0.8</text>
<path d="M31.8 31.18H34.6" stroke="#6c6c6c" stroke-width="1"/>
<text x="30.1" y="33.98" font-size="8.4" text-anchor="end" fill="#111" stroke="#111">0.9</text>
<path d="M31.8 17.7H34.6" stroke="#6c6c6c" stroke-width="1"/>
<text x="30.1" y="20.5" font-size="8.4" text-anchor="end" fill="#111" stroke="#111">1.0</text>
<path d="M33.4 145.76H34.6" stroke="#6c6c6c" stroke-width="1"/>
<path d="M33.4 132.28H34.6" stroke="#6c6c6c" stroke-width="1"/>
<path d="M33.4 118.8H34.6" stroke="#6c6c6c" stroke-width="1"/>
<path d="M33.4 105.32H34.6" stroke="#6c6c6c" stroke-width="1"/>
<path d="M33.4 91.84H34.6" stroke="#6c6c6c" stroke-width="1"/>
<path d="M33.4 78.36H34.6" stroke="#6c6c6c" stroke-width="1"/>
<path d="M33.4 64.88H34.6" stroke="#6c6c6c" stroke-width="1"/>
<path d="M33.4 51.4H34.6" stroke="#6c6c6c" stroke-width="1"/>
<path d="M33.4 37.92H34.6" stroke="#6c6c6c" stroke-width="1"/>
<path d="M33.4 24.44H34.6" stroke="#6c6c6c" stroke-width="1"/>
<path d="M36 155.3V160.4" stroke="#6c6c6c" stroke-width="1"/>
<text x="36" y="169.3" font-size="9" text-anchor="middle" fill="#111" stroke="#111">0</text>
<path d="M60.41 155.3V160.4" stroke="#6c6c6c" stroke-width="1"/>
<text x="60.41" y="169.3" font-size="9" text-anchor="middle" fill="#111" stroke="#111">1</text>
<path d="M84.82 155.3V160.4" stroke="#6c6c6c" stroke-width="1"/>
<text x="84.82" y="169.3" font-size="9" text-anchor="middle" fill="#111" stroke="#111">2</text>
<path d="M109.23 155.3V160.4" stroke="#6c6c6c" stroke-width="1"/>
<text x="109.23" y="169.3" font-size="9" text-anchor="middle" fill="#111" stroke="#111">3</text>
<path d="M133.64 155.3V160.4" stroke="#6c6c6c" stroke-width="1"/>
<text x="133.64" y="169.3" font-size="9" text-anchor="middle" fill="#111" stroke="#111">4</text>
<path d="M158.05 155.3V160.4" stroke="#6c6c6c" stroke-width="1"/>
<text x="158.05" y="169.3" font-size="9" text-anchor="middle" fill="#111" stroke="#111">5</text>
<path d="M182.46 155.3V160.4" stroke="#6c6c6c" stroke-width="1"/>
<text x="182.46" y="169.3" font-size="9" text-anchor="middle" fill="#111" stroke="#111">6</text>
<path d="M206.87 155.3V160.4" stroke="#6c6c6c" stroke-width="1"/>
<text x="206.87" y="169.3" font-size="9" text-anchor="middle" fill="#111" stroke="#111">7</text>
<path d="M231.28 155.3V160.4" stroke="#6c6c6c" stroke-width="1"/>
<text x="231.28" y="169.3" font-size="9" text-anchor="middle" fill="#111" stroke="#111">8</text>
<path d="M255.69 155.3V160.4" stroke="#6c6c6c" stroke-width="1"/>
<text x="255.69" y="169.3" font-size="9" text-anchor="middle" fill="#111" stroke="#111">9</text>
<path d="M48.2 155.3V158.3" stroke="#6c6c6c" stroke-width="1"/>
<path d="M72.62 155.3V158.3" stroke="#6c6c6c" stroke-width="1"/>
<path d="M97.03 155.3V158.3" stroke="#6c6c6c" stroke-width="1"/>
<path d="M121.44 155.3V158.3" stroke="#6c6c6c" stroke-width="1"/>
<path d="M145.84 155.3V158.3" stroke="#6c6c6c" stroke-width="1"/>
<path d="M170.25 155.3V158.3" stroke="#6c6c6c" stroke-width="1"/>
<path d="M194.66 155.3V158.3" stroke="#6c6c6c" stroke-width="1"/>
<path d="M219.07 155.3V158.3" stroke="#6c6c6c" stroke-width="1"/>
<path d="M243.49 155.3V158.3" stroke="#6c6c6c" stroke-width="1"/>
<text transform="translate(15.1,85.2) rotate(-90)" font-size="8.4" text-anchor="middle" fill="#111" stroke="#111">probability</text>
<text x="255.5" y="182.9" font-size="8.4" text-anchor="end" fill="#111" stroke="#111">years from trial entry</text>
<text class="t" x="5" y="185.5" font-size="7" fill="#222" stroke="#222">Numbers At Risk</text>
<path d="M35 17.8H42.7V31.5H53.2V45.4H66.4V60.3H70V76.2H80V91.5H85.3V106.6H109.2V121.8H147.7" fill="none" stroke="#88a098" stroke-width="1.3" stroke-linejoin="miter" stroke-linecap="butt"/>
<path d="M35 17.8H42.3V25.4H45.4V32.2H58.9V40.2H87.2V49.3H136V61.8H151.4V80H161.2V104.6H186V116" fill="none" stroke="#58704a" stroke-width="1.3" stroke-linejoin="miter" stroke-linecap="butt"/>
<path d="M35 17.8H46V19H47.3V21H48.4V23.8H50V25.8H53.5V28.8H61V40H76.4V46.2H81.1V52.4H83.1V57.7H89.9V65H95.2V70.5H100.4V77.3H105.4V84.5H141.7V95.8H212.9V110.9" fill="none" stroke="#62609c" stroke-width="1.3" stroke-linejoin="miter" stroke-linecap="butt"/>
<path d="M35 17.8H46V19H47.3V21H48.4V23.8H50V25H69.5V26.4H74.4V28.1H76.4V30.8H79.8V32.2H84.5V33.9H112.8V35.5H131V39H133V42.3H135.7V44.7H163.8V47.8H170.6V52.3H172.5V55.5H183V60H197.5V69H203.3V80.5H208V95.5H227.3" fill="none" stroke="#2e2aa4" stroke-width="1.35" stroke-linejoin="miter" stroke-linecap="butt"/>
<text x="146.4" y="28.1" font-size="8.4" fill="#111" stroke="#111">CDKN2A/TP53: pooled</text>
<path d="M156.3 118.4H168.5" stroke="#2e2aa4" stroke-width="1.6"/>
<text x="173.5" y="121.4" font-size="8.4" fill="#3030a8" stroke="#3030a8">wt/wt, median = 7.0</text>
<path d="M156.3 126.1H168.5" stroke="#62609c" stroke-width="1.6"/>
<text x="173.5" y="129.5" font-size="8.4" fill="#6a6a9a" stroke="#6a6a9a">del/wt, median = 4.3</text>
<path d="M156.3 134.1H168.5" stroke="#58704a" stroke-width="1.6"/>
<text x="173.5" y="137.6" font-size="8.4" fill="#5f8050" stroke="#5f8050">wt/del, median = 5.1</text>
<path d="M156.3 142.2H168.5" stroke="#88a098" stroke-width="1.6"/>
<text x="173.5" y="145.6" font-size="8.4" fill="#9aaa9e" stroke="#9aaa9e">del/del, median = 1.8</text>
<text x="174.5" y="153" font-size="8.4" fill="#111" stroke="#111">p &lt; 0.0001</text>
<text class="t" x="5.2" y="193.5" font-size="7" fill="#222" stroke="#222">wt/wt</text>
<text class="t" x="36" y="193.5" font-size="7" text-anchor="middle" fill="#222" stroke="#222">80</text>
<text class="t" x="60.41" y="193.5" font-size="7" text-anchor="middle" fill="#222" stroke="#222">76</text>
<text class="t" x="84.82" y="193.5" font-size="7" text-anchor="middle" fill="#222" stroke="#222">66</text>
<text class="t" x="109.23" y="193.5" font-size="7" text-anchor="middle" fill="#222" stroke="#222">60</text>
<text class="t" x="133.64" y="193.5" font-size="7" text-anchor="middle" fill="#222" stroke="#222">48</text>
<text class="t" x="158.05" y="193.5" font-size="7" text-anchor="middle" fill="#222" stroke="#222">34</text>
<text class="t" x="182.46" y="193.5" font-size="7" text-anchor="middle" fill="#222" stroke="#222">22</text>
<text class="t" x="206.87" y="193.5" font-size="7" text-anchor="middle" fill="#222" stroke="#222">5</text>
<text class="t" x="231.28" y="193.5" font-size="7" text-anchor="middle" fill="#222" stroke="#222">0</text>
<text class="t" x="5.2" y="199.4" font-size="7" fill="#222" stroke="#222">del/wt</text>
<text class="t" x="36" y="199.4" font-size="7" text-anchor="middle" fill="#222" stroke="#222">24</text>
<text class="t" x="60.41" y="199.4" font-size="7" text-anchor="middle" fill="#222" stroke="#222">21</text>
<text class="t" x="84.82" y="199.4" font-size="7" text-anchor="middle" fill="#222" stroke="#222">16</text>
<text class="t" x="109.23" y="199.4" font-size="7" text-anchor="middle" fill="#222" stroke="#222">10</text>
<text class="t" x="133.64" y="199.4" font-size="7" text-anchor="middle" fill="#222" stroke="#222">8</text>
<text class="t" x="158.05" y="199.4" font-size="7" text-anchor="middle" fill="#222" stroke="#222">5</text>
<text class="t" x="182.46" y="199.4" font-size="7" text-anchor="middle" fill="#222" stroke="#222">3</text>
<text class="t" x="206.87" y="199.4" font-size="7" text-anchor="middle" fill="#222" stroke="#222">1</text>
<text class="t" x="231.28" y="199.4" font-size="7" text-anchor="middle" fill="#222" stroke="#222">0</text>
<text class="t" x="5.2" y="205.5" font-size="7" fill="#222" stroke="#222">wt/del</text>
<text class="t" x="36" y="205.5" font-size="7" text-anchor="middle" fill="#222" stroke="#222">19</text>
<text class="t" x="60.41" y="205.5" font-size="7" text-anchor="middle" fill="#222" stroke="#222">15</text>
<text class="t" x="84.82" y="205.5" font-size="7" text-anchor="middle" fill="#222" stroke="#222">13</text>
<text class="t" x="109.23" y="205.5" font-size="7" text-anchor="middle" fill="#222" stroke="#222">11</text>
<text class="t" x="133.64" y="205.5" font-size="7" text-anchor="middle" fill="#222" stroke="#222">8</text>
<text class="t" x="158.05" y="205.5" font-size="7" text-anchor="middle" fill="#222" stroke="#222">3</text>
<text class="t" x="182.46" y="205.5" font-size="7" text-anchor="middle" fill="#222" stroke="#222">1</text>
<text class="t" x="206.87" y="205.5" font-size="7" text-anchor="middle" fill="#222" stroke="#222">0</text>
<text class="t" x="5.2" y="211.4" font-size="7" fill="#222" stroke="#222">del/del</text>
<text class="t" x="36" y="211.4" font-size="7" text-anchor="middle" fill="#222" stroke="#222">10</text>
<text class="t" x="60.41" y="211.4" font-size="7" text-anchor="middle" fill="#222" stroke="#222">7</text>
<text class="t" x="84.82" y="211.4" font-size="7" text-anchor="middle" fill="#222" stroke="#222">3</text>
<text class="t" x="109.23" y="211.4" font-size="7" text-anchor="middle" fill="#222" stroke="#222">2</text>
<text class="t" x="133.64" y="211.4" font-size="7" text-anchor="middle" fill="#222" stroke="#222">1</text>
<text class="t" x="158.05" y="211.4" font-size="7" text-anchor="middle" fill="#222" stroke="#222">0</text>
</g>
<g transform="translate(261,432.5)">
<text x="7.9" y="7.2" font-size="10.4" font-weight="bold" fill="#000" stroke="#000">F</text>
<path d="M34.6 15.2H257.6V155.3" fill="none" stroke="#6c6c6c" stroke-width="1"/>
<path d="M34.6 15.2V155.3H257.6" fill="none" stroke="#6c6c6c" stroke-width="1"/>
<path d="M31.8 152.5H34.6" stroke="#6c6c6c" stroke-width="1"/>
<text x="30.1" y="155.3" font-size="8.4" text-anchor="end" fill="#111" stroke="#111">0.0</text>
<path d="M31.8 139.02H34.6" stroke="#6c6c6c" stroke-width="1"/>
<text x="30.1" y="141.82" font-size="8.4" text-anchor="end" fill="#111" stroke="#111">0.1</text>
<path d="M31.8 125.54H34.6" stroke="#6c6c6c" stroke-width="1"/>
<text x="30.1" y="128.34" font-size="8.4" text-anchor="end" fill="#111" stroke="#111">0.2</text>
<path d="M31.8 112.06H34.6" stroke="#6c6c6c" stroke-width="1"/>
<text x="30.1" y="114.86" font-size="8.4" text-anchor="end" fill="#111" stroke="#111">0.3</text>
<path d="M31.8 98.58H34.6" stroke="#6c6c6c" stroke-width="1"/>
<text x="30.1" y="101.38" font-size="8.4" text-anchor="end" fill="#111" stroke="#111">0.4</text>
<path d="M31.8 85.1H34.6" stroke="#6c6c6c" stroke-width="1"/>
<text x="30.1" y="87.9" font-size="8.4" text-anchor="end" fill="#111" stroke="#111">0.5</text>
<path d="M31.8 71.62H34.6" stroke="#6c6c6c" stroke-width="1"/>
<text x="30.1" y="74.42" font-size="8.4" text-anchor="end" fill="#111" stroke="#111">0.6</text>
<path d="M31.8 58.14H34.6" stroke="#6c6c6c" stroke-width="1"/>
<text x="30.1" y="60.94" font-size="8.4" text-anchor="end" fill="#111" stroke="#111">0.7</text>
<path d="M31.8 44.66H34.6" stroke="#6c6c6c" stroke-width="1"/>
<text x="30.1" y="47.46" font-size="8.4" text-anchor="end" fill="#111" stroke="#111">0.8</text>
<path d="M31.8 31.18H34.6" stroke="#6c6c6c" stroke-width="1"/>
<text x="30.1" y="33.98" font-size="8.4" text-anchor="end" fill="#111" stroke="#111">0.9</text>
<path d="M31.8 17.7H34.6" stroke="#6c6c6c" stroke-width="1"/>
<text x="30.1" y="20.5" font-size="8.4" text-anchor="end" fill="#111" stroke="#111">1.0</text>
<path d="M33.4 145.76H34.6" stroke="#6c6c6c" stroke-width="1"/>
<path d="M33.4 132.28H34.6" stroke="#6c6c6c" stroke-width="1"/>
<path d="M33.4 118.8H34.6" stroke="#6c6c6c" stroke-width="1"/>
<path d="M33.4 105.32H34.6" stroke="#6c6c6c" stroke-width="1"/>
<path d="M33.4 91.84H34.6" stroke="#6c6c6c" stroke-width="1"/>
<path d="M33.4 78.36H34.6" stroke="#6c6c6c" stroke-width="1"/>
<path d="M33.4 64.88H34.6" stroke="#6c6c6c" stroke-width="1"/>
<path d="M33.4 51.4H34.6" stroke="#6c6c6c" stroke-width="1"/>
<path d="M33.4 37.92H34.6" stroke="#6c6c6c" stroke-width="1"/>
<path d="M33.4 24.44H34.6" stroke="#6c6c6c" stroke-width="1"/>
<path d="M36 155.3V160.4" stroke="#6c6c6c" stroke-width="1"/>
<text x="36" y="169.3" font-size="9" text-anchor="middle" fill="#111" stroke="#111">0</text>
<path d="M60.41 155.3V160.4" stroke="#6c6c6c" stroke-width="1"/>
<text x="60.41" y="169.3" font-size="9" text-anchor="middle" fill="#111" stroke="#111">1</text>
<path d="M84.82 155.3V160.4" stroke="#6c6c6c" stroke-width="1"/>
<text x="84.82" y="169.3" font-size="9" text-anchor="middle" fill="#111" stroke="#111">2</text>
<path d="M109.23 155.3V160.4" stroke="#6c6c6c" stroke-width="1"/>
<text x="109.23" y="169.3" font-size="9" text-anchor="middle" fill="#111" stroke="#111">3</text>
<path d="M133.64 155.3V160.4" stroke="#6c6c6c" stroke-width="1"/>
<text x="133.64" y="169.3" font-size="9" text-anchor="middle" fill="#111" stroke="#111">4</text>
<path d="M158.05 155.3V160.4" stroke="#6c6c6c" stroke-width="1"/>
<text x="158.05" y="169.3" font-size="9" text-anchor="middle" fill="#111" stroke="#111">5</text>
<path d="M182.46 155.3V160.4" stroke="#6c6c6c" stroke-width="1"/>
<text x="182.46" y="169.3" font-size="9" text-anchor="middle" fill="#111" stroke="#111">6</text>
<path d="M206.87 155.3V160.4" stroke="#6c6c6c" stroke-width="1"/>
<text x="206.87" y="169.3" font-size="9" text-anchor="middle" fill="#111" stroke="#111">7</text>
<path d="M231.28 155.3V160.4" stroke="#6c6c6c" stroke-width="1"/>
<text x="231.28" y="169.3" font-size="9" text-anchor="middle" fill="#111" stroke="#111">8</text>
<path d="M255.69 155.3V160.4" stroke="#6c6c6c" stroke-width="1"/>
<text x="255.69" y="169.3" font-size="9" text-anchor="middle" fill="#111" stroke="#111">9</text>
<path d="M48.2 155.3V158.3" stroke="#6c6c6c" stroke-width="1"/>
<path d="M72.62 155.3V158.3" stroke="#6c6c6c" stroke-width="1"/>
<path d="M97.03 155.3V158.3" stroke="#6c6c6c" stroke-width="1"/>
<path d="M121.44 155.3V158.3" stroke="#6c6c6c" stroke-width="1"/>
<path d="M145.84 155.3V158.3" stroke="#6c6c6c" stroke-width="1"/>
<path d="M170.25 155.3V158.3" stroke="#6c6c6c" stroke-width="1"/>
<path d="M194.66 155.3V158.3" stroke="#6c6c6c" stroke-width="1"/>
<path d="M219.07 155.3V158.3" stroke="#6c6c6c" stroke-width="1"/>
<path d="M243.49 155.3V158.3" stroke="#6c6c6c" stroke-width="1"/>
<text transform="translate(15.1,85.2) rotate(-90)" font-size="8.4" text-anchor="middle" fill="#111" stroke="#111">probability</text>
<text x="255.5" y="182.9" font-size="8.4" text-anchor="end" fill="#111" stroke="#111">years from trial entry</text>
<text class="t" x="5" y="185.5" font-size="7" fill="#222" stroke="#222">Numbers At Risk</text>
<path d="M35 17.8H42.5V51.7H69.4V85.4H79.5V119H108.6V127.7" fill="none" stroke="#88a098" stroke-width="1.3" stroke-linejoin="miter" stroke-linecap="butt"/>
<path d="M35 17.8H45.1V30.2H58.3V42.5H135.5V64.4H150.7V109.2H160.5V118.3" fill="none" stroke="#58704a" stroke-width="1.3" stroke-linejoin="miter" stroke-linecap="butt"/>
<path d="M35 17.8H60.2V37H76.3V47.4H82.9V58H100.5V71.8H141.3V88.2H212.6V104.9" fill="none" stroke="#62609c" stroke-width="1.3" stroke-linejoin="miter" stroke-linecap="butt"/>
<path d="M35 17.8H47.1V21.4H70.2V25.1H77.8V28.6H87.8V32.2H132.1V37.1H163.6V46H183V56.6H207.9V88.5H227.8" fill="none" stroke="#2e2aa4" stroke-width="1.35" stroke-linejoin="miter" stroke-linecap="butt"/>
<text x="146" y="28.1" font-size="8.4" fill="#111" stroke="#111">CDKN2A/TP53: experimental</text>
<path d="M156.3 118.4H168.5" stroke="#2e2aa4" stroke-width="1.6"/>
<text x="173.5" y="121.4" font-size="8.4" fill="#3030a8" stroke="#3030a8">wt/wt, median = 7.0</text>
<path d="M156.3 126.1H168.5" stroke="#62609c" stroke-width="1.6"/>
<text x="173.5" y="129.5" font-size="8.4" fill="#6a6a9a" stroke="#6a6a9a">del/wt, median = 4.3</text>
<path d="M156.3 134.1H168.5" stroke="#58704a" stroke-width="1.6"/>
<text x="173.5" y="137.6" font-size="8.4" fill="#5f8050" stroke="#5f8050">wt/del, median = 4.7</text>
<path d="M156.3 142.2H168.5" stroke="#88a098" stroke-width="1.6"/>
<text x="173.5" y="145.6" font-size="8.4" fill="#9aaa9e" stroke="#9aaa9e">del/del, median = 1.6</text>
<text x="174.5" y="153" font-size="8.4" fill="#111" stroke="#111">p &lt; 0.0001</text>
<text class="t" x="5.2" y="193.5" font-size="7" fill="#222" stroke="#222">wt/wt</text>
<text class="t" x="36" y="193.5" font-size="7" text-anchor="middle" fill="#222" stroke="#222">40</text>
<text class="t" x="60.41" y="193.5" font-size="7" text-anchor="middle" fill="#222" stroke="#222">39</text>
<text class="t" x="84.82" y="193.5" font-size="7" text-anchor="middle" fill="#222" stroke="#222">34</text>
<text class="t" x="109.23" y="193.5" font-size="7" text-anchor="middle" fill="#222" stroke="#222">28</text>
<text class="t" x="133.64" y="193.5" font-size="7" text-anchor="middle" fill="#222" stroke="#222">23</text>
<text class="t" x="158.05" y="193.5" font-size="7" text-anchor="middle" fill="#222" stroke="#222">14</text>
<text class="t" x="182.46" y="193.5" font-size="7" text-anchor="middle" fill="#222" stroke="#222">10</text>
<text class="t" x="206.87" y="193.5" font-size="7" text-anchor="middle" fill="#222" stroke="#222">3</text>
<text class="t" x="231.28" y="193.5" font-size="7" text-anchor="middle" fill="#222" stroke="#222">0</text>
<text class="t" x="5.2" y="199.4" font-size="7" fill="#222" stroke="#222">del/wt</text>
<text class="t" x="36" y="199.4" font-size="7" text-anchor="middle" fill="#222" stroke="#222">14</text>
<text class="t" x="60.41" y="199.4" font-size="7" text-anchor="middle" fill="#222" stroke="#222">13</text>
<text class="t" x="84.82" y="199.4" font-size="7" text-anchor="middle" fill="#222" stroke="#222">9</text>
<text class="t" x="109.23" y="199.4" font-size="7" text-anchor="middle" fill="#222" stroke="#222">6</text>
<text class="t" x="158.05" y="199.4" font-size="7" text-anchor="middle" fill="#222" stroke="#222">4</text>
<text class="t" x="182.46" y="199.4" font-size="7" text-anchor="middle" fill="#222" stroke="#222">2</text>
<text class="t" x="206.87" y="199.4" font-size="7" text-anchor="middle" fill="#222" stroke="#222">1</text>
<text class="t" x="231.28" y="199.4" font-size="7" text-anchor="middle" fill="#222" stroke="#222">0</text>
<text class="t" x="5.2" y="205.5" font-size="7" fill="#222" stroke="#222">wt/del</text>
<text class="t" x="36" y="205.5" font-size="7" text-anchor="middle" fill="#222" stroke="#222">12</text>
<text class="t" x="60.41" y="205.5" font-size="7" text-anchor="middle" fill="#222" stroke="#222">9</text>
<text class="t" x="84.82" y="205.5" font-size="7" text-anchor="middle" fill="#222" stroke="#222">7</text>
<text class="t" x="133.64" y="205.5" font-size="7" text-anchor="middle" fill="#222" stroke="#222">5</text>
<text class="t" x="158.05" y="205.5" font-size="7" text-anchor="middle" fill="#222" stroke="#222">1</text>
<text class="t" x="182.46" y="205.5" font-size="7" text-anchor="middle" fill="#222" stroke="#222">0</text>
<text class="t" x="5.2" y="211.4" font-size="7" fill="#222" stroke="#222">del/del</text>
<text class="t" x="36" y="211.4" font-size="7" text-anchor="middle" fill="#222" stroke="#222">4</text>
<text class="t" x="60.41" y="211.4" font-size="7" text-anchor="middle" fill="#222" stroke="#222">3</text>
<text class="t" x="84.82" y="211.4" font-size="7" text-anchor="middle" fill="#222" stroke="#222">1</text>
<text class="t" x="109.23" y="211.4" font-size="7" text-anchor="middle" fill="#222" stroke="#222">0</text>
</g>
</svg>
</body></html>
